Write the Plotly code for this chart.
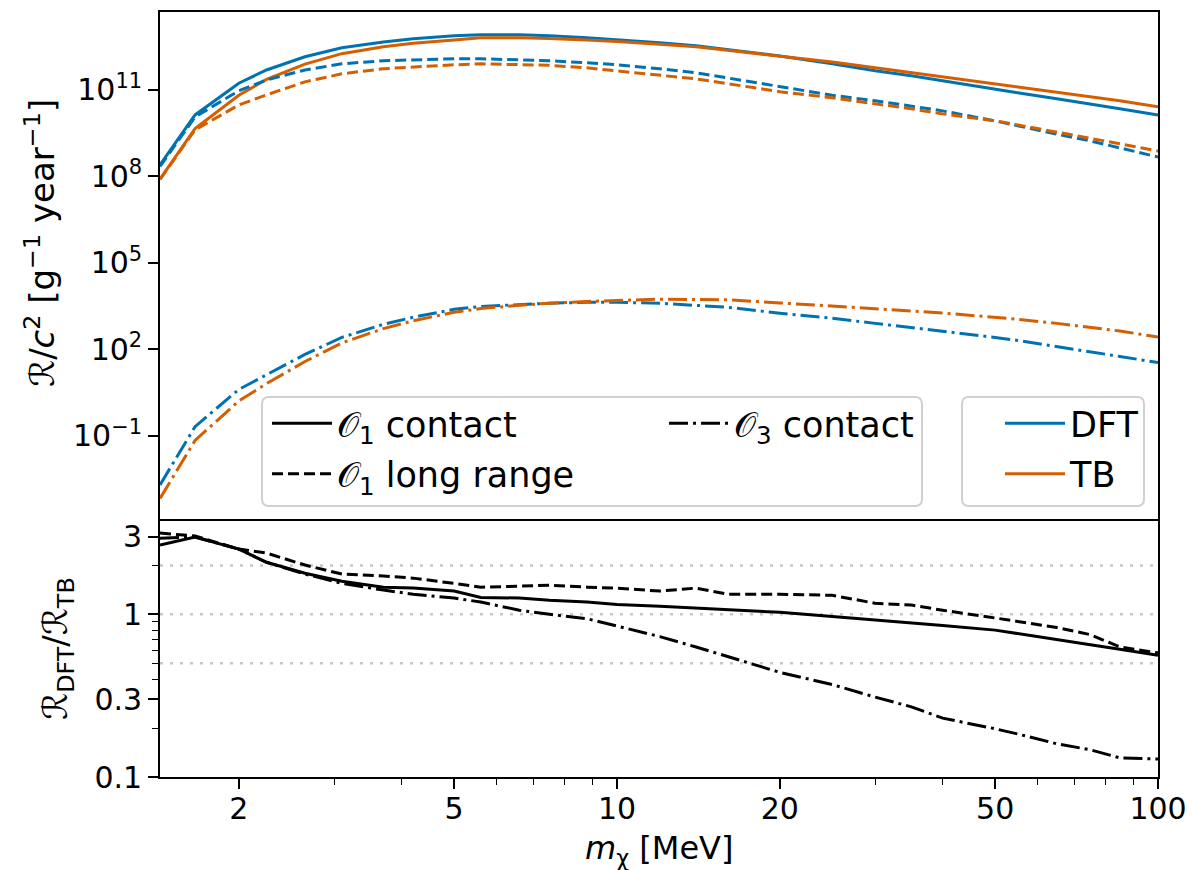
import plotly.graph_objects as go

# ---------------- data ----------------
MASS = [1.43, 1.66, 2.0, 2.25, 2.65, 3.1, 3.7, 4.2, 5.0, 5.6, 6.6, 7.5, 8.8, 10.0,
        12.0, 14.0, 16.0, 20.0, 25.0, 30.0, 35.0, 40.0, 50.0, 55.0, 65.0, 75.0, 85.0, 100.0]

DFT_O1_CONTACT = [2.5e8, 1.35e10, 1.7e11, 4.9e11, 1.4e12, 2.9e12, 4.6e12, 5.9e12, 7.5e12, 8.1e12,
                  8.1e12, 7.5e12, 6.4e12, 5.5e12, 4.3e12, 3.4e12, 2.5e12, 1.5e12, 8.0e11, 4.6e11,
                  3.1e11, 2.05e11, 1.08e11, 7.9e10, 4.9e10, 3.3e10, 2.2e10, 1.35e10]
TB_O1_CONTACT = [8e7, 4.6e9, 6.5e10, 2.3e11, 7.8e11, 1.8e12, 3.1e12, 4.1e12, 5.4e12, 6.4e12,
                 6.4e12, 6.1e12, 5.4e12, 4.8e12, 3.8e12, 3.1e12, 2.35e12, 1.5e12, 9.3e11, 5.8e11,
                 3.9e11, 2.8e11, 1.6e11, 1.27e11, 7.9e10, 5.7e10, 4.2e10, 2.6e10]
DFT_O1_LR = [2.2e8, 1.15e10, 9.3e10, 2.2e11, 4.9e11, 8.0e11, 1.02e12, 1.1e12, 1.2e12, 1.2e12,
             1.1e12, 1.02e12, 8.7e11, 7.4e11, 5.4e11, 3.9e11, 2.6e11, 1.3e11, 6.5e10, 4.2e10,
             2.8e10, 1.87e10, 8.4e9, 5.6e9, 2.9e9, 1.7e9, 9.8e8, 4.7e8]
TB_O1_LR = [7.9e7, 4.1e9, 3.0e10, 6.7e10, 1.9e11, 3.6e11, 5.4e11, 6.3e11, 7.4e11, 8.0e11,
            7.7e11, 7.1e11, 5.8e11, 4.6e11, 3.3e11, 2.4e11, 1.65e11, 8.6e10, 5.3e10, 3.3e10,
            2.2e10, 1.47e10, 8.4e9, 6.1e9, 3.5e9, 2.15e9, 1.35e9, 7.6e8]
DFT_O3 = [2.0e-3, 0.21, 4.1, 13.5, 67, 260, 740, 1300, 2450, 3100,
          3600, 4000, 4300, 4300, 4000, 3400, 2900, 1800, 1200, 800,
          580, 420, 260, 205, 127, 85, 57, 35]
TB_O3 = [6.8e-4, 0.07, 1.63, 6.5, 38, 168, 525, 980, 1940, 2600,
         3400, 4000, 4600, 5000, 5500, 5400, 5300, 4100, 3240, 2600,
         2150, 1830, 1310, 1110, 800, 580, 435, 270]

RATIO_O1_CONTACT = [2.67, 2.99, 2.52, 2.09, 1.79, 1.60, 1.47, 1.45, 1.39, 1.27,
                    1.26, 1.22, 1.19, 1.15, 1.12, 1.09, 1.07, 1.03, 0.97, 0.925,
                    0.89, 0.855, 0.80, 0.76, 0.70, 0.65, 0.61, 0.56]
RATIO_O1_LR = [3.16, 3.03, 2.52, 2.38, 2.01, 1.77, 1.72, 1.67, 1.55, 1.47,
               1.49, 1.51, 1.47, 1.45, 1.39, 1.45, 1.33, 1.33, 1.31, 1.17,
               1.14, 1.06, 0.95, 0.905, 0.83, 0.75, 0.63, 0.58]
RATIO_O3 = [2.94, 2.99, 2.52, 2.09, 1.77, 1.55, 1.41, 1.33, 1.26, 1.19,
            1.06, 1.00, 0.94, 0.85, 0.73, 0.63, 0.55, 0.44, 0.37, 0.31,
            0.27, 0.23, 0.198, 0.184, 0.160, 0.147, 0.131, 0.129]

REF_LINES = [0.5, 1, 2]

TOP_TICKVALS = [1e-1, 1e2, 1e5, 1e8, 1e11]
TOP_TICKTEXT = ["10<sup>\u22121</sup>", "10<sup>2</sup>", "10<sup>5</sup>",
                "10<sup>8</sup>", "10<sup>11</sup>"]
BOT_TICKVALS = [0.1, 0.3, 1, 3]
BOT_TICKTEXT = ["0.1", "0.3", "1", "3"]
BOT_MINOR = [0.2, 0.4, 0.5, 0.6, 0.7, 0.8, 0.9, 2]
X_TICKVALS = [2, 5, 10, 20, 50, 100]
X_TICKTEXT = ["2", "5", "10", "20", "50", "100"]
X_MINOR = [3, 4, 6, 7, 8, 9, 30, 40, 60, 70, 80, 90]

LINE_LABELS = ["\U0001D4AA<sub>1</sub> contact", "\U0001D4AA<sub>1</sub> long range",
               "\U0001D4AA<sub>3</sub> contact"]
METHOD_LABELS = ["DFT", "TB"]

TITLE_TOP_Y = "\u211B/<i>c</i><sup>2</sup> [g<sup>\u22121</sup> year<sup>\u22121</sup>]"
TITLE_BOT_Y = "\u211B<sub>DFT</sub>/\u211B<sub>TB</sub>"
TITLE_X = "<i>m</i><sub>\u03c7</sub> [MeV]"

# ---------------- style ----------------
BLUE = "#0072B2"
ORANGE = "#D55E00"
DASH = "11px,5px"
DASHDOT = "19px,5px,3px,5px"
LW = 3
FONT = "DejaVu Sans"
TICK_SIZE = 30
LEG_SIZE = 35

fig = go.Figure()

top_series = [
    (DFT_O1_CONTACT, BLUE, "solid"),
    (TB_O1_CONTACT, ORANGE, "solid"),
    (DFT_O1_LR, BLUE, DASH),
    (TB_O1_LR, ORANGE, DASH),
    (DFT_O3, BLUE, DASHDOT),
    (TB_O3, ORANGE, DASHDOT),
]
for ys, col, dash in top_series:
    fig.add_trace(go.Scatter(x=MASS, y=ys, mode="lines", xaxis="x", yaxis="y",
                             line=dict(color=col, width=LW, dash=dash),
                             showlegend=False, hoverinfo="skip"))

for ys, dash in [(RATIO_O1_CONTACT, "solid"), (RATIO_O1_LR, DASH), (RATIO_O3, DASHDOT)]:
    fig.add_trace(go.Scatter(x=MASS, y=ys, mode="lines", xaxis="x2", yaxis="y2",
                             line=dict(color="black", width=LW, dash=dash),
                             showlegend=False, hoverinfo="skip"))

# legend entries
style_legend = [(LINE_LABELS[0], "solid", "legend"), (LINE_LABELS[1], DASH, "legend"),
                (LINE_LABELS[2], DASHDOT, "legend3")]
for i, (lab, dash, lg) in enumerate(style_legend):
    fig.add_trace(go.Scatter(x=[None], y=[None], mode="lines", xaxis="x", yaxis="y",
                             name=lab, legend=lg, legendgroup="s%d" % i,
                             line=dict(color="black", width=LW, dash=dash)))
for i, (lab, col) in enumerate(zip(METHOD_LABELS, [BLUE, ORANGE])):
    fig.add_trace(go.Scatter(x=[None], y=[None], mode="lines", xaxis="x", yaxis="y",
                             name=lab, legend="legend2", legendgroup="m%d" % i,
                             line=dict(color=col, width=LW)))

shapes = []
for v in REF_LINES:
    shapes.append(dict(type="line", xref="x2 domain", x0=0, x1=1, yref="y2", y0=v, y1=v,
                       line=dict(color="#c8c8c8", width=2.5, dash="3px,7px"), layer="below"))


def rrect(x0, y0, x1, y1, rpx=7):
    rx = rpx / 998.0
    ry = rpx / 765.0
    return ("M %f,%f L %f,%f Q %f,%f %f,%f L %f,%f Q %f,%f %f,%f L %f,%f Q %f,%f %f,%f "
            "L %f,%f Q %f,%f %f,%f Z" % (
                x0 + rx, y0, x1 - rx, y0, x1, y0, x1, y0 + ry, x1, y1 - ry, x1, y1, x1 - rx, y1,
                x0 + rx, y1, x0, y1, x0, y1 - ry, x0, y0 + ry, x0, y0, x0 + rx, y0))


def px2paper(px, py):
    return (px - 160) / 998.0, (777 - py) / 765.0


for (ax0, ay0, ax1, ay1) in [(262, 506, 922, 397), (962, 506, 1144, 397)]:
    x0, y0 = px2paper(ax0, ay0)
    x1, y1 = px2paper(ax1, ay1)
    shapes.append(dict(type="path", xref="paper", yref="paper", path=rrect(x0, y0, x1, y1),
                       line=dict(color="#d0d0d0", width=2), fillcolor="rgba(255,255,255,0.8)",
                       layer="above"))

axis_common = dict(showline=True, linecolor="black", linewidth=1.6, automargin=False,
                   showgrid=False, zeroline=False, tickcolor="black", tickwidth=1.6,
                   ticklen=10, tickfont=dict(family=FONT, size=TICK_SIZE, color="black"))

XR = [0.1553, 2.0]
SPLIT = 256.0 / 765.0

leg_common = dict(bgcolor="rgba(0,0,0,0)", borderwidth=0, traceorder="grouped",
                  tracegroupgap=2, font=dict(family=FONT, size=LEG_SIZE, color="black"),
                  xanchor="left", yanchor="top", itemwidth=60)

lx, ly = px2paper(267, 394)
lx3, _ = px2paper(664, 394)
lx2, _ = px2paper(1000, 394)

tx_top, ty_top = px2paper(40, 243)
tx_bot, ty_bot = px2paper(57, 649)
tx_x, ty_x = px2paper(659, 850)

annotations = [
    dict(text=TITLE_TOP_Y, xref="paper", yref="paper", x=tx_top, y=ty_top, textangle=-90,
         showarrow=False, xanchor="center", yanchor="middle",
         font=dict(family=FONT, size=34, color="black")),
    dict(text=TITLE_BOT_Y, xref="paper", yref="paper", x=tx_bot, y=ty_bot, textangle=-90,
         showarrow=False, xanchor="center", yanchor="middle",
         font=dict(family=FONT, size=34, color="black")),
    dict(text=TITLE_X, xref="paper", yref="paper", x=tx_x, y=ty_x,
         showarrow=False, xanchor="center", yanchor="middle",
         font=dict(family=FONT, size=32, color="black")),
]

fig.update_layout(
    width=1192, height=870,
    margin=dict(l=160, r=34, t=12, b=93, autoexpand=False),
    paper_bgcolor="white", plot_bgcolor="white",
    font=dict(family=FONT, color="black"),
    xaxis=dict(axis_common, type="log", range=XR, domain=[0, 1], anchor="y", side="top",
               mirror=False, showticklabels=False, ticks=""),
    yaxis=dict(axis_common, type="log", range=[-3.95, 13.7], domain=[SPLIT, 1], anchor="x",
               mirror=True, ticks="outside", tickmode="array", tickvals=TOP_TICKVALS,
               ticktext=TOP_TICKTEXT),
    xaxis2=dict(axis_common, type="log", range=XR, domain=[0, 1], anchor="y2", matches="x",
                mirror=True, ticks="outside", tickmode="array", tickvals=X_TICKVALS,
                ticktext=X_TICKTEXT, ticklabelstandoff=-6,
                minor=dict(ticks="outside", tickvals=X_MINOR, ticklen=6, tickwidth=1.3,
                           tickcolor="black", showgrid=False)),
    yaxis2=dict(axis_common, type="log", range=[-1.0, 0.574], domain=[0, SPLIT], anchor="x2",
                mirror=True, ticks="outside", tickmode="array", tickvals=BOT_TICKVALS,
                ticktext=BOT_TICKTEXT,
                minor=dict(ticks="outside", tickvals=BOT_MINOR, ticklen=6, tickwidth=1.3,
                           tickcolor="black", showgrid=False)),
    legend=dict(leg_common, x=lx, y=ly),
    legend3=dict(leg_common, x=lx3, y=ly),
    legend2=dict(leg_common, x=lx2, y=ly),
    shapes=shapes,
    annotations=annotations,
    showlegend=True,
)

fig.write_html("out.html")
